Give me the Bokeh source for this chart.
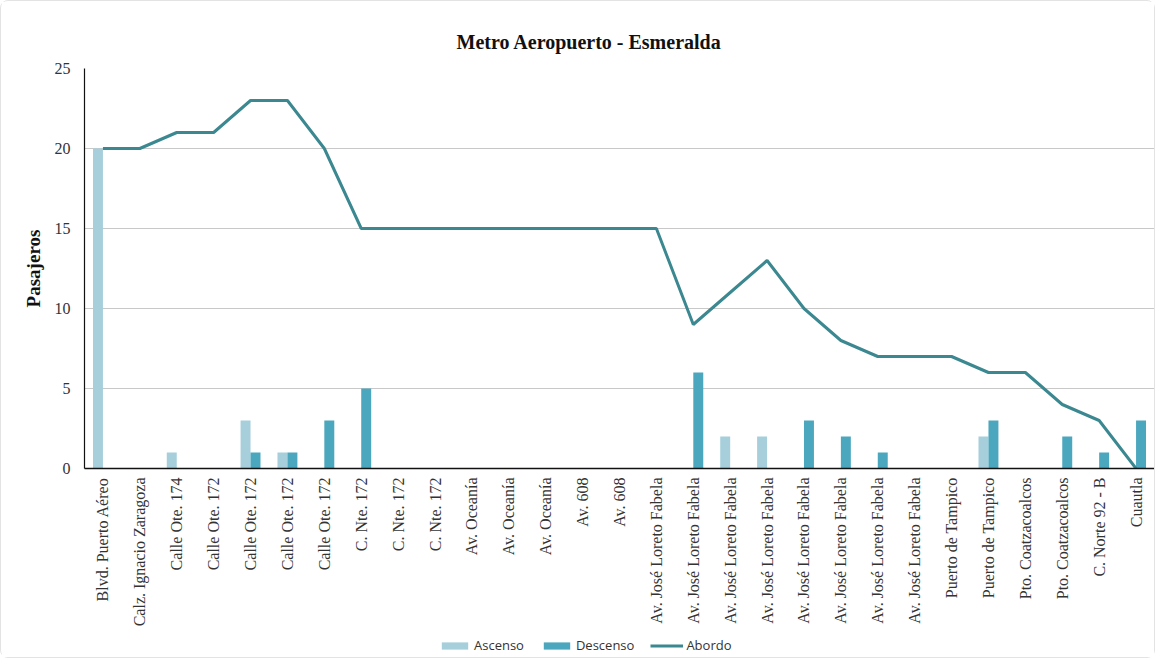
import math
from bokeh.plotting import figure
from bokeh.layouts import column
from bokeh.models import ColumnDataSource, FixedTicker, Legend, LegendItem, Range1d
from bokeh.transform import dodge
from bokeh.embed import file_html
from bokeh.resources import INLINE

stops = [
    "Blvd. Puerto Aéreo", "Calz. Ignacio Zaragoza", "Calle Ote. 174", "Calle Ote. 172",
    "Calle Ote. 172", "Calle Ote. 172", "Calle Ote. 172", "C. Nte. 172", "C. Nte. 172",
    "C. Nte. 172", "Av. Oceanía", "Av. Oceanía", "Av. Oceanía", "Av. 608", "Av. 608",
    "Av. José Loreto Fabela", "Av. José Loreto Fabela", "Av. José Loreto Fabela",
    "Av. José Loreto Fabela", "Av. José Loreto Fabela", "Av. José Loreto Fabela",
    "Av. José Loreto Fabela", "Av. José Loreto Fabela", "Puerto de Tampico",
    "Puerto de Tampico", "Pto. Coatzacoalcos", "Pto. Coatzacoalcos", "C. Norte 92 - B",
    "Cuautla",
]
ascenso = [20, 0, 1, 0, 3, 1, 0, 0, 0, 0, 0, 0, 0, 0, 0, 0, 0, 2, 2, 0, 0, 0, 0, 0, 2, 0, 0, 0, 0]
descenso = [0, 0, 0, 0, 1, 1, 3, 5, 0, 0, 0, 0, 0, 0, 0, 0, 6, 0, 0, 3, 2, 1, 0, 0, 3, 0, 2, 1, 3]
abordo = [20, 20, 21, 21, 23, 23, 20, 15, 15, 15, 15, 15, 15, 15, 15, 15, 9, 11, 13, 10, 8, 7, 7, 7, 6, 6, 4, 3, 0]
y_ticks = [0, 5, 10, 15, 20, 25]

pos = list(range(1, len(stops) + 1))
src = ColumnDataSource(dict(x=pos, asc=ascenso, desc=descenso, abo=abordo))

ASC = "#a6cfdb"
DESC = "#4ba7be"
ABO = "#3b8891"

p = figure(width=1153, height=628, output_backend="svg", toolbar_location=None,
           x_range=Range1d(0.5, len(stops) + 0.5), y_range=Range1d(0, 25),
           min_border_left=83, min_border_right=0, min_border_top=67, min_border_bottom=154)

p.vbar(x=dodge("x", -0.135, range=p.x_range), top="asc", width=0.27, source=src,
       fill_color=ASC, line_color=None)
p.vbar(x=dodge("x", 0.135, range=p.x_range), top="desc", width=0.27, source=src,
       fill_color=DESC, line_color=None)
p.line(x="x", y="abo", source=src, line_color=ABO, line_width=3)

p.title.text = "Metro Aeropuerto - Esmeralda"
p.title.align = "left"
p.title.offset = 372
p.title.text_font = "Liberation Serif"
p.title.text_font_size = "20px"
p.title.text_font_style = "bold"
p.title.text_color = "#111111"
p.title.standoff = 31

p.xaxis.ticker = FixedTicker(ticks=pos)
p.xaxis.major_label_overrides = {i: s for i, s in zip(pos, stops)}
p.xaxis.major_label_orientation = math.pi / 2
p.xaxis.major_label_text_font = "Liberation Serif"
p.xaxis.major_label_text_font_size = "16px"
p.xaxis.major_label_text_color = "#333333"
p.xaxis.major_label_standoff = 9
p.xaxis.major_tick_out = 0
p.xaxis.major_tick_in = 0
p.xaxis.major_tick_line_color = None
p.xaxis.minor_tick_line_color = None
p.xaxis.axis_line_color = "#111111"
p.xaxis.axis_line_width = 1.5

p.yaxis.ticker = FixedTicker(ticks=y_ticks)
p.yaxis.major_label_text_font = "Liberation Serif"
p.yaxis.major_label_text_font_size = "16px"
p.yaxis.major_label_text_color = "#333333"
p.yaxis.major_label_standoff = 14
p.yaxis.major_tick_out = 0
p.yaxis.major_tick_in = 0
p.yaxis.major_tick_line_color = None
p.yaxis.minor_tick_line_color = None
p.yaxis.axis_line_color = "#111111"
p.yaxis.axis_line_width = 1.2
p.yaxis.axis_label = "Pasajeros"
p.yaxis.axis_label_text_font = "Liberation Serif"
p.yaxis.axis_label_text_font_size = "19px"
p.yaxis.axis_label_text_font_style = "bold"
p.yaxis.axis_label_text_color = "#111111"
p.yaxis.axis_label_standoff = 8

p.xgrid.grid_line_color = None
p.ygrid.grid_line_color = "#c8c8c8"
p.ygrid.grid_line_width = 1.2
p.outline_line_color = None

# legend strip below the chart (its swatches come from the same series, kept out of view)
lg = figure(width=1153, height=28, output_backend="svg", toolbar_location=None,
            x_range=Range1d(1000, 1001), y_range=Range1d(1000, 1001),
            min_border_left=0, min_border_right=0, min_border_top=0, min_border_bottom=0)
lg.axis.visible = False
lg.grid.visible = False
lg.outline_line_color = None
l_asc = lg.vbar(x="x", top="asc", width=0.27, source=src, fill_color=ASC, line_color=None)
l_desc = lg.vbar(x="x", top="desc", width=0.27, source=src, fill_color=DESC, line_color=None)
l_abo = lg.line(x="x", y="abo", source=src, line_color=ABO, line_width=3)

legend = Legend(items=[
    LegendItem(label="Ascenso", renderers=[l_asc]),
    LegendItem(label="Descenso", renderers=[l_desc]),
    LegendItem(label="Abordo", renderers=[l_abo]),
], orientation="horizontal", location=(354, 3))
legend.label_text_font = "Open Sans"
legend.label_text_font_size = "13px"
legend.label_text_color = "#333333"
legend.glyph_width = 33
legend.glyph_height = 9
legend.label_standoff = 3
legend.spacing = 16
legend.border_line_color = None
legend.background_fill_alpha = 0
legend.padding = 2
legend.margin = 0
lg.add_layout(legend, "center")

layout = column(p, lg, spacing=0)
layout.styles = {"border": "1px solid #e3e3e3", "border-radius": "8px"}

open("out.html", "w").write(file_html(layout, INLINE))
